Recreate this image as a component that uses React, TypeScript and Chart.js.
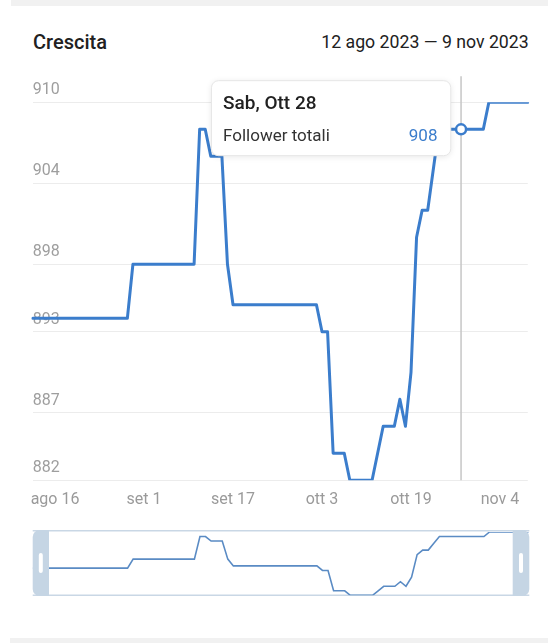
import React, { useEffect, useRef } from "react";
import { Chart, registerables } from "chart.js";

Chart.register(...registerables);

const titleText = "Crescita";
const rangeText = "12 ago 2023 — 9 nov 2023";
const seriesName = "Follower totali";
const tooltipTitle = "Sab, Ott 28";

const dates = [
  "ago 12", "ago 13", "ago 14", "ago 15", "ago 16", "ago 17", "ago 18", "ago 19", "ago 20", "ago 21",
  "ago 22", "ago 23", "ago 24", "ago 25", "ago 26", "ago 27", "ago 28", "ago 29", "ago 30", "ago 31",
  "set 1", "set 2", "set 3", "set 4", "set 5", "set 6", "set 7", "set 8", "set 9", "set 10",
  "set 11", "set 12", "set 13", "set 14", "set 15", "set 16", "set 17", "set 18", "set 19", "set 20",
  "set 21", "set 22", "set 23", "set 24", "set 25", "set 26", "set 27", "set 28", "set 29", "set 30",
  "ott 1", "ott 2", "ott 3", "ott 4", "ott 5", "ott 6", "ott 7", "ott 8", "ott 9", "ott 10",
  "ott 11", "ott 12", "ott 13", "ott 14", "ott 15", "ott 16", "ott 17", "ott 18", "ott 19", "ott 20",
  "ott 21", "ott 22", "ott 23", "ott 24", "ott 25", "ott 26", "ott 27", "ott 28", "ott 29", "ott 30",
  "ott 31", "nov 1", "nov 2", "nov 3", "nov 4", "nov 5", "nov 6", "nov 7", "nov 8", "nov 9",
];

const followers = [
  894, 894, 894, 894, 894, 894, 894, 894, 894, 894,
  894, 894, 894, 894, 894, 894, 894, 894, 898, 898,
  898, 898, 898, 898, 898, 898, 898, 898, 898, 898,
  908, 908, 906, 906, 906, 898, 895, 895, 895, 895,
  895, 895, 895, 895, 895, 895, 895, 895, 895, 895,
  895, 895, 893, 893, 884, 884, 884, 882, 882, 882,
  882, 882, 884, 886, 886, 886, 888, 886, 890, 900,
  902, 902, 905, 908, 908, 908, 908, 908, 908, 908,
  908, 908, 910, 910, 910, 910, 910, 910, 910, 910,
];

const xTickLabels = ["ago 16", "set 1", "set 17", "ott 3", "ott 19", "nov 4"];
const yTickValues = [882, 887, 893, 898, 904, 910];
const activeLabel = "ott 28";

const LINE = "#3b7dcc";
const FONT = "Roboto, 'Noto Sans', sans-serif";

export default function App() {
  const mainRef = useRef<HTMLCanvasElement | null>(null);
  const navRef = useRef<HTMLCanvasElement | null>(null);

  useEffect(() => {
    document.body.style.margin = "0";
    const activeIndex = dates.indexOf(activeLabel);

    const hoverPlugin = {
      id: "hoverMarker",
      afterDatasetsDraw(chart: any) {
        const ctx = chart.ctx;
        const meta = chart.getDatasetMeta(0);
        const pt = meta.data[activeIndex];
        if (!pt) return;
        const { x, y } = pt;
        const area = chart.chartArea;
        ctx.save();
        // vertical rule
        ctx.strokeStyle = "#c6c6c6";
        ctx.lineWidth = 1.5;
        ctx.beginPath();
        ctx.moveTo(x, area.top - 26);
        ctx.lineTo(x, area.bottom);
        ctx.stroke();
        // point
        ctx.beginPath();
        ctx.arc(x, y, 5, 0, Math.PI * 2);
        ctx.fillStyle = "#ffffff";
        ctx.fill();
        ctx.lineWidth = 2.5;
        ctx.strokeStyle = LINE;
        ctx.stroke();
        // tooltip box
        const right = x - 10.3;
        const w = 239.3;
        const left = right - w;
        const top = area.top - 21.6;
        const h = 75;
        ctx.shadowColor = "rgba(0,0,0,0.10)";
        ctx.shadowBlur = 6;
        ctx.shadowOffsetY = 1;
        ctx.beginPath();
        (ctx as any).roundRect(left, top, w, h, 7);
        ctx.fillStyle = "#ffffff";
        ctx.fill();
        ctx.shadowColor = "transparent";
        ctx.shadowBlur = 0;
        ctx.shadowOffsetY = 0;
        ctx.lineWidth = 1;
        ctx.strokeStyle = "#e6e6e6";
        ctx.stroke();
        ctx.textBaseline = "alphabetic";
        ctx.textAlign = "left";
        ctx.fillStyle = "#212121";
        ctx.font = `500 19px ${FONT}`;
        ctx.fillText(tooltipTitle, left + 11.6, top + 28.3);
        ctx.fillStyle = "#333333";
        ctx.font = `17px ${FONT}`;
        ctx.fillText(seriesName, left + 11.6, top + 60);
        ctx.textAlign = "right";
        ctx.fillStyle = LINE;
        ctx.fillText(String(followers[activeIndex]), right - 13.3, top + 60);
        ctx.restore();
      },
    };

    const main = new Chart(mainRef.current!, {
      type: "line",
      data: {
        labels: dates,
        datasets: [
          {
            label: seriesName,
            data: followers,
            borderColor: LINE,
            borderWidth: 3,
            pointRadius: 0,
            tension: 0,
            fill: false,
            borderJoinStyle: "round",
            borderCapStyle: "round",
          },
        ],
      },
      options: {
        animation: false,
        responsive: false,
        maintainAspectRatio: false,
        events: [],
        layout: { padding: { left: 32.8, right: 20.2, top: 102.3, bottom: 0.5 } },
        plugins: { legend: { display: false }, tooltip: { enabled: false } },
        scales: {
          x: {
            type: "category",
            offset: false,
            grid: { display: false, drawTicks: false },
            border: { display: false },
            ticks: {
              autoSkip: false,
              maxRotation: 0,
              minRotation: 0,
              padding: 10,
              color: "#9a9a9a",
              font: { family: FONT, size: 16 },
              callback: (_v: any, i: number) => (xTickLabels.includes(dates[i]) ? dates[i] : ""),
            },
          },
          y: {
            min: 882,
            max: 910,
            afterBuildTicks: (scale: any) => {
              scale.ticks = yTickValues.map((v) => ({ value: v }));
            },
            grid: { color: "#ececec", lineWidth: 1, drawTicks: false },
            border: { display: false },
            ticks: {
              mirror: true,
              padding: 0,
              labelOffset: -12,
              color: "#9e9e9e",
              font: { family: FONT, size: 16 },
              callback: (v: any) => String(v),
            },
          },
        },
      },
      plugins: [hoverPlugin],
    });

    const navPlugin = {
      id: "navFrame",
      beforeDatasetsDraw(chart: any) {
        const ctx = chart.ctx;
        ctx.save();
        ctx.strokeStyle = "#c9d7e5";
        ctx.lineWidth = 1.5;
        ctx.beginPath();
        ctx.moveTo(32.7, 5.75);
        ctx.lineTo(529.3, 5.75);
        ctx.moveTo(32.7, 70.3);
        ctx.lineTo(529.3, 70.3);
        ctx.stroke();
        ctx.restore();
      },
      afterDraw(chart: any) {
        const ctx = chart.ctx;
        ctx.save();
        ctx.fillStyle = "#c5d5e4";
        const top = 5;
        const h = 66;
        ctx.beginPath();
        (ctx as any).roundRect(32.7, top, 16.3, h, [7, 0, 0, 7]);
        ctx.fill();
        ctx.beginPath();
        (ctx as any).roundRect(512.7, top, 16.6, h, [0, 7, 7, 0]);
        ctx.fill();
        ctx.fillStyle = "#ffffff";
        ctx.beginPath();
        (ctx as any).roundRect(38.8, 28, 4, 20, 2);
        ctx.fill();
        ctx.beginPath();
        (ctx as any).roundRect(519, 28, 4, 20, 2);
        ctx.fill();
        ctx.restore();
      },
    };

    const nav = new Chart(navRef.current!, {
      type: "line",
      data: {
        labels: dates,
        datasets: [
          {
            data: followers,
            borderColor: "#5a8bc4",
            borderWidth: 1.6,
            pointRadius: 0,
            tension: 0,
            fill: false,
          },
        ],
      },
      options: {
        animation: false,
        responsive: false,
        maintainAspectRatio: false,
        events: [],
        layout: { padding: { left: 32.9, right: 19.5, top: 7, bottom: 4.7 } },
        plugins: { legend: { display: false }, tooltip: { enabled: false } },
        scales: {
          x: { display: false, offset: false },
          y: { display: false, min: 882, max: 910 },
        },
      },
      plugins: [navPlugin],
    });

    return () => {
      main.destroy();
      nav.destroy();
    };
  }, []);

  return (
    <div style={{ position: "relative", width: 548, height: 643, overflow: "hidden", background: "#ffffff", fontFamily: FONT }}>
      <div style={{ position: "absolute", top: 0, left: 11, right: 0, height: 6, background: "#f1f1f1" }} />
      <div
        style={{
          position: "absolute",
          left: 33,
          top: 32.2,
          fontSize: 20,
          lineHeight: "20px",
          fontWeight: 500,
          color: "#212121",
          whiteSpace: "nowrap",
        }}
      >
        {titleText}
      </div>
      <div
        style={{
          position: "absolute",
          right: 19.3,
          top: 34.2,
          fontSize: 17.7,
          lineHeight: "17.7px",
          color: "#212121",
          whiteSpace: "nowrap",
        }}
      >
        {rangeText}
      </div>
      <canvas ref={mainRef} width={548} height={520} style={{ position: "absolute", left: 0, top: 0, width: 548, height: 520 }} />
      <canvas ref={navRef} width={548} height={75} style={{ position: "absolute", left: 0, top: 525, width: 548, height: 75 }} />
      <div style={{ position: "absolute", top: 638, left: 10, right: 0, height: 5, background: "#f1f1f1" }} />
    </div>
  );
}
